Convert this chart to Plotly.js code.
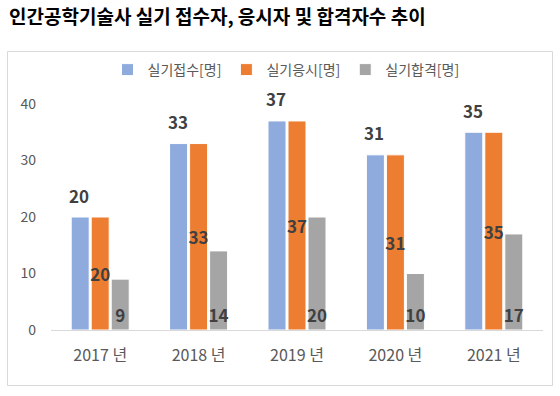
<!DOCTYPE html>
<html>
<head>
<meta charset="utf-8">
<script src="https://cdn.plot.ly/plotly-3.0.1.min.js"></script>
<style>html,body{margin:0;padding:0;background:#fff;}#chart{width:560px;height:396px;}</style>
</head>
<body>
<div id="chart"></div>
<script>
const categories = ["2017 년", "2018 년", "2019 년", "2020 년", "2021 년"];
const applied = [20, 33, 37, 31, 35];
const tested = [20, 33, 37, 31, 35];
const passed = [9, 14, 20, 10, 17];
const seriesNames = ["실기접수[명]", "실기응시[명]", "실기합격[명]"];
const yTicks = [0, 10, 20, 30, 40];

const font = "'Noto Sans CJK KR', 'Noto Sans', sans-serif";
const labelFont = {family: font, size: 17, color: "#404040", weight: "bold"};

const traces = [
  {type: "bar", name: seriesNames[0], x: categories, y: applied,
   marker: {color: "#8faadc", line: {color: "#ffffff", width: 1}},
   hoverinfo: "none"},
  {type: "bar", name: seriesNames[1], x: categories, y: tested,
   marker: {color: "#ed7d31", line: {color: "#ffffff", width: 1}},
   text: tested.map(String), textposition: "inside", insidetextanchor: "middle", textangle: 0,
   constraintext: "none", cliponaxis: false,
   textfont: labelFont, hoverinfo: "none"},
  {type: "bar", name: seriesNames[2], x: categories, y: passed,
   marker: {color: "#a5a5a5", line: {color: "#ffffff", width: 1}},
   text: passed.map(String), textposition: "inside", insidetextanchor: "start", textangle: 0,
   constraintext: "none", cliponaxis: false,
   textfont: labelFont, hoverinfo: "none"}
];

// labels above the first series, placed with the axis scales
const annotations = categories.map((c, i) => ({
  x: c, y: applied[i], xref: "x", yref: "y",
  text: String(applied[i]), showarrow: false,
  xshift: -21, yshift: 22, font: labelFont
}));

const layout = {
  width: 560, height: 396,
  margin: {l: 51, r: 17, t: 104, b: 66},
  paper_bgcolor: "#ffffff", plot_bgcolor: "#ffffff",
  font: {family: font, color: "#595959"},
  barmode: "group", bargap: 0.39, bargroupgap: 0.1,
  title: {text: "인간공학기술사 실기 접수자, 응시자 및 합격자수 추이",
    font: {family: font, size: 19, color: "#000000", weight: "bold"},
    xref: "container", x: 9/560, xanchor: "left",
    yref: "container", y: 1 - 17/396, yanchor: "middle"},
  showlegend: true,
  legend: {orientation: "h", xref: "container", x: 286/560, xanchor: "center",
    yref: "container", y: 1 - 70/396, yanchor: "middle",
    bgcolor: "rgba(0,0,0,0)",
    font: {family: font, size: 14, color: "#595959"},
    itemwidth: 30, traceorder: "normal"},
  annotations: annotations,
  xaxis: {type: "category", showline: true, linecolor: "#d9d9d9", linewidth: 1,
    ticks: "", showgrid: false, zeroline: false,
    tickfont: {family: font, size: 16, color: "#595959"}, ticklabelstandoff: 11},
  yaxis: {range: [0, 40], tickvals: yTicks, showgrid: false, zeroline: false, showline: false,
    ticks: "", tickfont: {family: font, size: 14, color: "#595959"}, ticklabelstandoff: 14},
  shapes: [{type: "rect", xref: "paper", yref: "paper",
    x0: (7.5 - 51)/492, x1: (552.5 - 51)/492,
    y0: (330 - 385.5)/226, y1: (330 - 51.5)/226,
    line: {color: "#d9d9d9", width: 1}, fillcolor: "rgba(0,0,0,0)", layer: "below"}]
};

Plotly.newPlot("chart", traces, layout, {staticPlot: true, displayModeBar: false});
</script>
</body>
</html>
